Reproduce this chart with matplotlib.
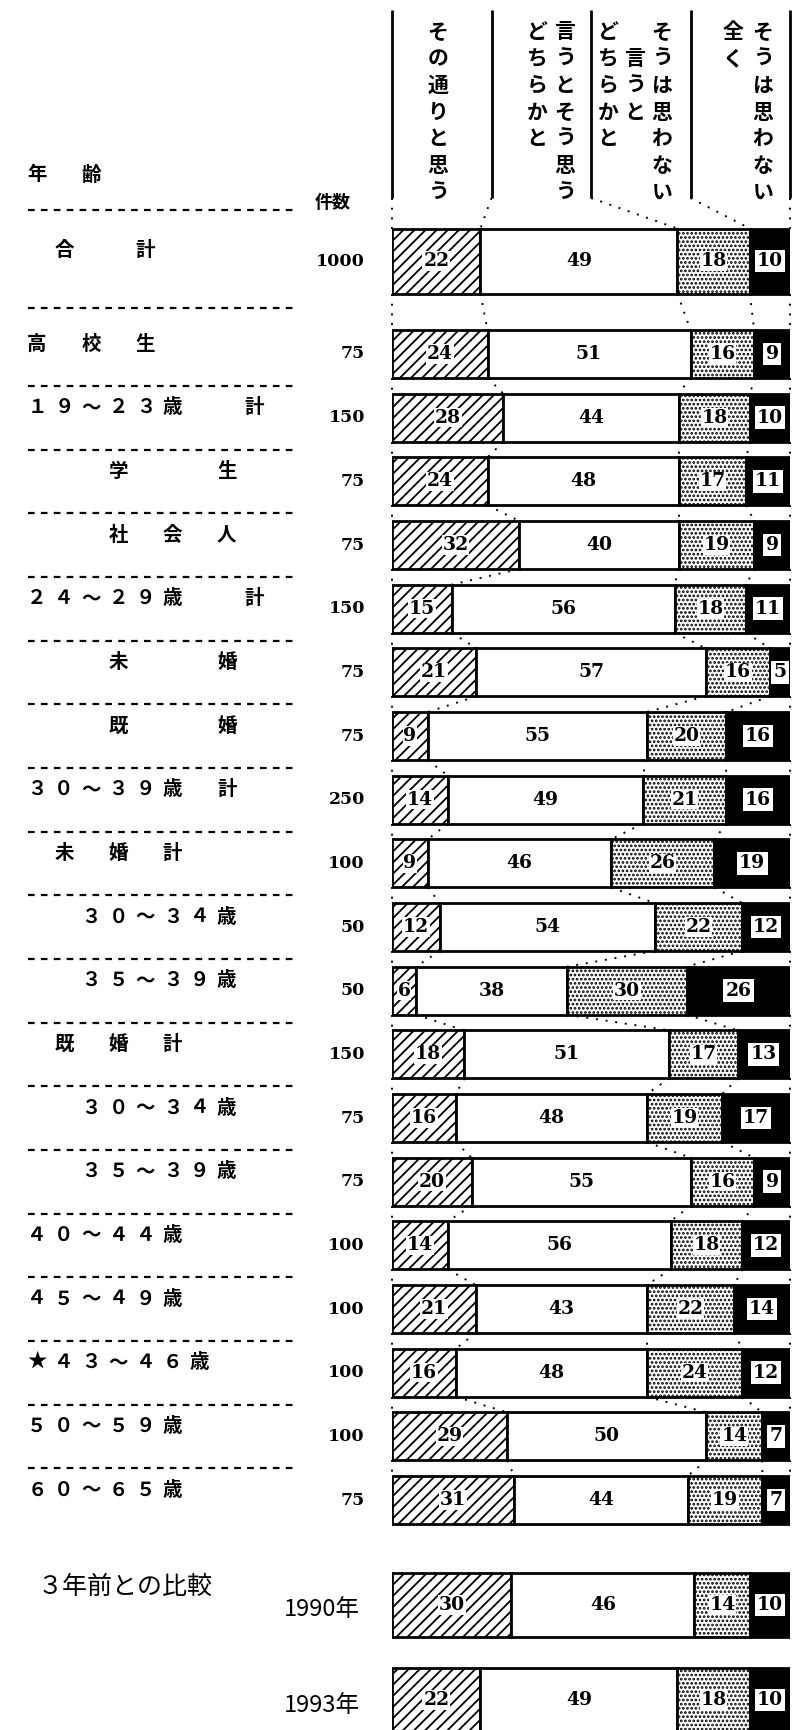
import matplotlib.pyplot as plt
import numpy as np

plt.rcParams['font.family'] = ['Noto Sans CJK JP', 'DejaVu Sans']
plt.rcParams['hatch.linewidth'] = 1.3

# --- data -------------------------------------------------------------
row_labels = ['　合　　計', '高　校　生', '１９～２３歳　　計', '　　　学　　　生',
              '　　　社　会　人', '２４～２９歳　　計', '　　　未　　　婚',
              '　　　既　　　婚', '３０～３９歳　計', '　未　婚　計',
              '　　３０～３４歳', '　　３５～３９歳', '　既　婚　計',
              '　　３０～３４歳', '　　３５～３９歳', '４０～４４歳',
              '４５～４９歳', '★４３～４６歳', '５０～５９歳', '６０～６５歳']
counts = [1000, 75, 150, 75, 75, 150, 75, 75, 250, 100,
          50, 50, 150, 75, 75, 100, 100, 100, 100, 75]
sono_toori = [22, 24, 28, 24, 32, 15, 21, 9, 14, 9, 12, 6, 18, 16, 20, 14, 21, 16, 29, 31]
dochira_sou = [49, 51, 44, 48, 40, 56, 57, 55, 49, 46, 54, 38, 51, 48, 55, 56, 43, 48, 50, 44]
dochira_not = [18, 16, 18, 17, 19, 18, 16, 20, 21, 26, 22, 30, 17, 19, 16, 18, 22, 24, 14, 19]
mattaku_not = [10, 9, 10, 11, 9, 11, 5, 16, 16, 19, 12, 26, 13, 17, 9, 12, 14, 12, 7, 7]

compare_labels = ['1990年', '1993年']
cmp_sono = [30, 22]
cmp_sou = [46, 49]
cmp_not = [14, 18]
cmp_mattaku = [10, 10]

# vertical header columns: (x px, first row, text)
headers = [(438, 0, 'その通りと思う'), (537, 0, 'どちらかと'), (565, 0, '言うとそう思う'),
           (608, 0, 'どちらかと'), (635, 1, '言うと'), (662, 0, 'そうは思わない'),
           (733, 0, '全く'), (763, 0, 'そうは思わない')]

W, H = 794, 1730
fig = plt.figure(figsize=(W / 100, H / 100), dpi=100)
ax0 = fig.add_axes([0, 0, 1, 1])
ax0.set_xlim(0, W)
ax0.set_ylim(H, 0)
ax0.axis('off')

bx0, bx1 = 392, 790
ax = fig.add_axes([bx0 / W, 0, (bx1 - bx0) / W, 1])
ax.set_xlim(0, 100)
ax.set_ylim(H, 0)
ax.axis('off')
ax.patch.set_alpha(0)

num_font = dict(family='DejaVu Serif', fontweight='bold', fontsize=13.5)


def draw_bar(y, vals, h):
    vals = np.array(vals, float)
    pct = vals / vals.sum() * 100
    left = np.concatenate([[0], np.cumsum(pct)[:-1]])
    face = ['white', 'white', 'white', 'black']
    hatch = ['///', None, '....', None]
    for k in range(4):
        ax.barh(y, pct[k], left=left[k], height=h, facecolor=face[k],
                edgecolor='black', hatch=hatch[k], linewidth=2, zorder=2)
        pad = 0.12 if k == 3 else 0.04
        ax.text(left[k] + pct[k] / 2, y, str(int(vals[k])), ha='center', va='center',
                color='black', zorder=4, **num_font,
                bbox=dict(boxstyle='square,pad=%g' % pad, fc='white', ec='none'))
    return np.concatenate([[0], np.cumsum(pct)])


def spaced(x0, y, text, pitch=27.1, **kw):
    for k, ch in enumerate(text):
        if ch.strip():
            ax0.text(x0 + k * pitch, y, ch, ha='center', va='center', **kw)


dots = dict(color='black', lw=1.4, ls=(0, (1, 4)), zorder=1, clip_on=False)

# header
ax.vlines([0, 25, 50, 75, 100], 10, 198, color='black', lw=2, clip_on=False)
for x, r0, txt in headers:
    for k, ch in enumerate(txt):
        ax0.text(x, 32 + (r0 + k) * 26.7, ch, ha='center', va='center',
                 fontsize=15, fontweight='bold')
spaced(37, 175, '年　齢', fontsize=14, fontweight='bold')
ax0.text(333, 202, '件数', ha='center', va='center', fontsize=13, fontweight='bold')

# rows
centers = [261] + [354 + 63.67 * i for i in range(len(row_labels) - 1)]
heights = [65] + [48] * (len(row_labels) - 1)
seps = [210] + [(centers[i] + centers[i + 1]) / 2 for i in range(len(centers) - 1)]
for s in seps:
    ax0.plot([28, 297], [s, s], color='black', lw=1.6, ls=(0, (3, 2.8)))

prev = (np.array([0, 25, 50, 75, 100]), 198)
for i, lab in enumerate(row_labels):
    y, h = centers[i], heights[i]
    edges = draw_bar(y, [sono_toori[i], dochira_sou[i], dochira_not[i], mattaku_not[i]], h)
    for k in range(5):
        ax.plot([prev[0][k], edges[k]], [prev[1], y - h / 2], **dots)
    prev = (edges, y + h / 2)
    spaced(37, y - 10, lab, fontsize=14, fontweight='bold')
    ax0.text(365, y, str(counts[i]), ha='right', va='center',
             family='DejaVu Serif', fontweight='bold', fontsize=12.5)

# comparison with three years earlier
ax0.text(38, 1587, '３年前との比較', ha='left', va='center', fontsize=18)
for j, lab in enumerate(compare_labels):
    y = 1605 + 95 * j
    draw_bar(y, [cmp_sono[j], cmp_sou[j], cmp_not[j], cmp_mattaku[j]], 64)
    ax0.text(360, y + 5, lab, ha='right', va='center', fontsize=17)

fig.savefig('out.png', dpi=100)
